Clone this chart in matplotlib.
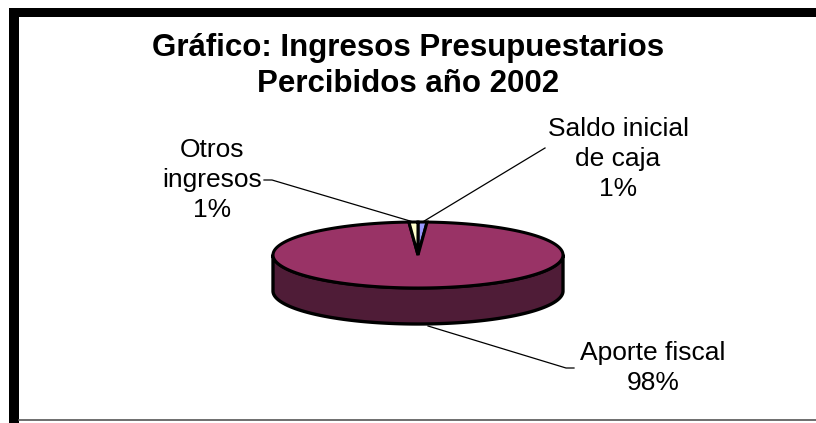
import numpy as np
import matplotlib.pyplot as plt
from matplotlib.patches import Polygon, Rectangle

# datos del grafico (orden en sentido horario desde las 12)
categorias = ["Saldo inicial\nde caja", "Aporte fiscal", "Otros\ningresos"]
valores = [1.0, 98.0, 1.0]
colores_top = ["#9999ff", "#993366", "#ffffcc"]
colores_lado = ["#4d4d80", "#4f1c37", "#808066"]
titulo = "Gráfico: Ingresos Presupuestarios\nPercibidos año 2002"

# geometria del pie 3D (pixeles)
cx, cy = 418, 255
a, b = 145, 33
h = 36


def punto(theta, dy=0):
    return cx + a * np.sin(theta), cy - b * np.cos(theta) + dy


def main():
    fig = plt.figure(figsize=(8.16, 4.23), dpi=100)
    ax = fig.add_axes([0, 0, 1, 1])
    ax.set_xlim(0, 816)
    ax.set_ylim(423, 0)
    ax.axis("off")
    plt.rcParams["font.family"] = ["Liberation Sans", "DejaVu Sans"]

    # marco
    ax.add_patch(Rectangle((9, 8), 816, 9, color="black", lw=0))
    ax.add_patch(Rectangle((9, 8), 10, 420, color="black", lw=0))
    ax.plot([19, 816], [420.5, 420.5], color="#555555", lw=1.2)

    total = sum(valores)
    angulos = np.cumsum([0] + [v / total * 2 * np.pi for v in valores])

    # pared lateral (solo la mitad frontal es visible)
    for i in range(len(valores)):
        t0 = max(angulos[i], np.pi / 2)
        t1 = min(angulos[i + 1], 3 * np.pi / 2)
        if t1 <= t0:
            continue
        t = np.linspace(t0, t1, 200)
        sup = [punto(x) for x in t]
        inf = [punto(x, h) for x in t[::-1]]
        ax.add_patch(Polygon(sup + inf, closed=True, facecolor=colores_lado[i],
                             edgecolor="black", lw=2.4, joinstyle="round"))

    # cara superior
    for i in range(len(valores)):
        t = np.linspace(angulos[i], angulos[i + 1], 400)
        pts = [(cx, cy)] + [punto(x) for x in t]
        ax.add_patch(Polygon(pts, closed=True, facecolor=colores_top[i],
                             edgecolor="black", lw=2.2, joinstyle="miter"))

    # etiquetas y lineas guia
    etiquetas = [f"{c}\n{v:.0f}%" for c, v in zip(categorias, valores)]
    medios = [(angulos[i] + angulos[i + 1]) / 2 for i in range(len(valores))]

    # Saldo inicial de caja
    x0, y0 = punto(medios[0])
    ax.plot([x0, 545], [y0, 148], color="black", lw=0.9)
    ax.text(618, 159, etiquetas[0], ha="center", va="center", fontsize=19,
            linespacing=1.3)

    # Aporte fiscal
    x1, y1 = punto(medios[1], h)
    ax.plot([x1 + 10, 566, 574], [y1 + 2, 368, 368], color="black", lw=0.9)
    ax.text(653, 368, etiquetas[1], ha="center", va="center", fontsize=19,
            linespacing=1.3)

    # Otros ingresos
    x2, y2 = punto(medios[2])
    ax.plot([264, 272, x2], [180, 180, y2], color="black", lw=0.9)
    ax.text(212, 180, etiquetas[2], ha="center", va="center", fontsize=19,
            linespacing=1.3)

    ax.text(408, 66, titulo, ha="center", va="center", fontsize=22.5,
            fontweight="bold", linespacing=1.3)

    fig.savefig("out.png", dpi=100)


if __name__ == "__main__":
    main()
